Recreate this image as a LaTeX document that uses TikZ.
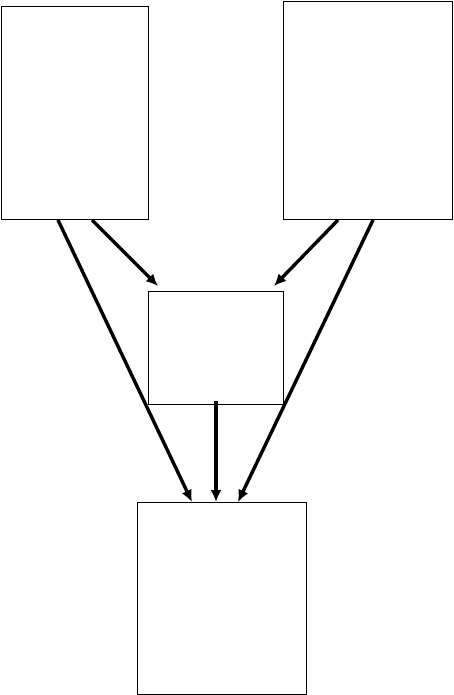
\documentclass[tikz,border=0pt]{standalone}
\usetikzlibrary{arrows.meta,calc}
\begin{document}
\begin{tikzpicture}[x=1pt,y=-1pt,
  box/.style={draw, line width=1pt, inner sep=0pt, anchor=north west},
  arr/.style={line width=3.4pt, -{Latex[length=12pt,width=11pt]}}]
\useasboundingbox (0,0) rectangle (453,695);
\node[box, minimum width=147pt, minimum height=213pt] (tl) at (1,6) {};
\node[box, minimum width=169pt, minimum height=218pt] (tr) at (283,1) {};
\node[box, minimum width=135pt, minimum height=113pt] (mid) at (148,291) {};
\node[box, minimum width=169pt, minimum height=192pt] (bot) at (137,502) {};
\draw[arr] ($(tl.south west)+(57,0)$) -- ($(bot.north west)+(55,0)$);
\draw[arr] ($(tl.south west)+(91,0)$) -- ($(mid.north west)+(10,-5)$);
\draw[arr] ($(tr.south west)+(55,0)$) -- ($(mid.north east)+(-10,-5)$);
\draw[arr] ($(tr.south west)+(90,0)$) -- ($(bot.north west)+(101,0)$);
\draw[arr] ($(mid.south)+(0,-4)$) -- (mid.south |- bot.north);
\end{tikzpicture}
\end{document}
